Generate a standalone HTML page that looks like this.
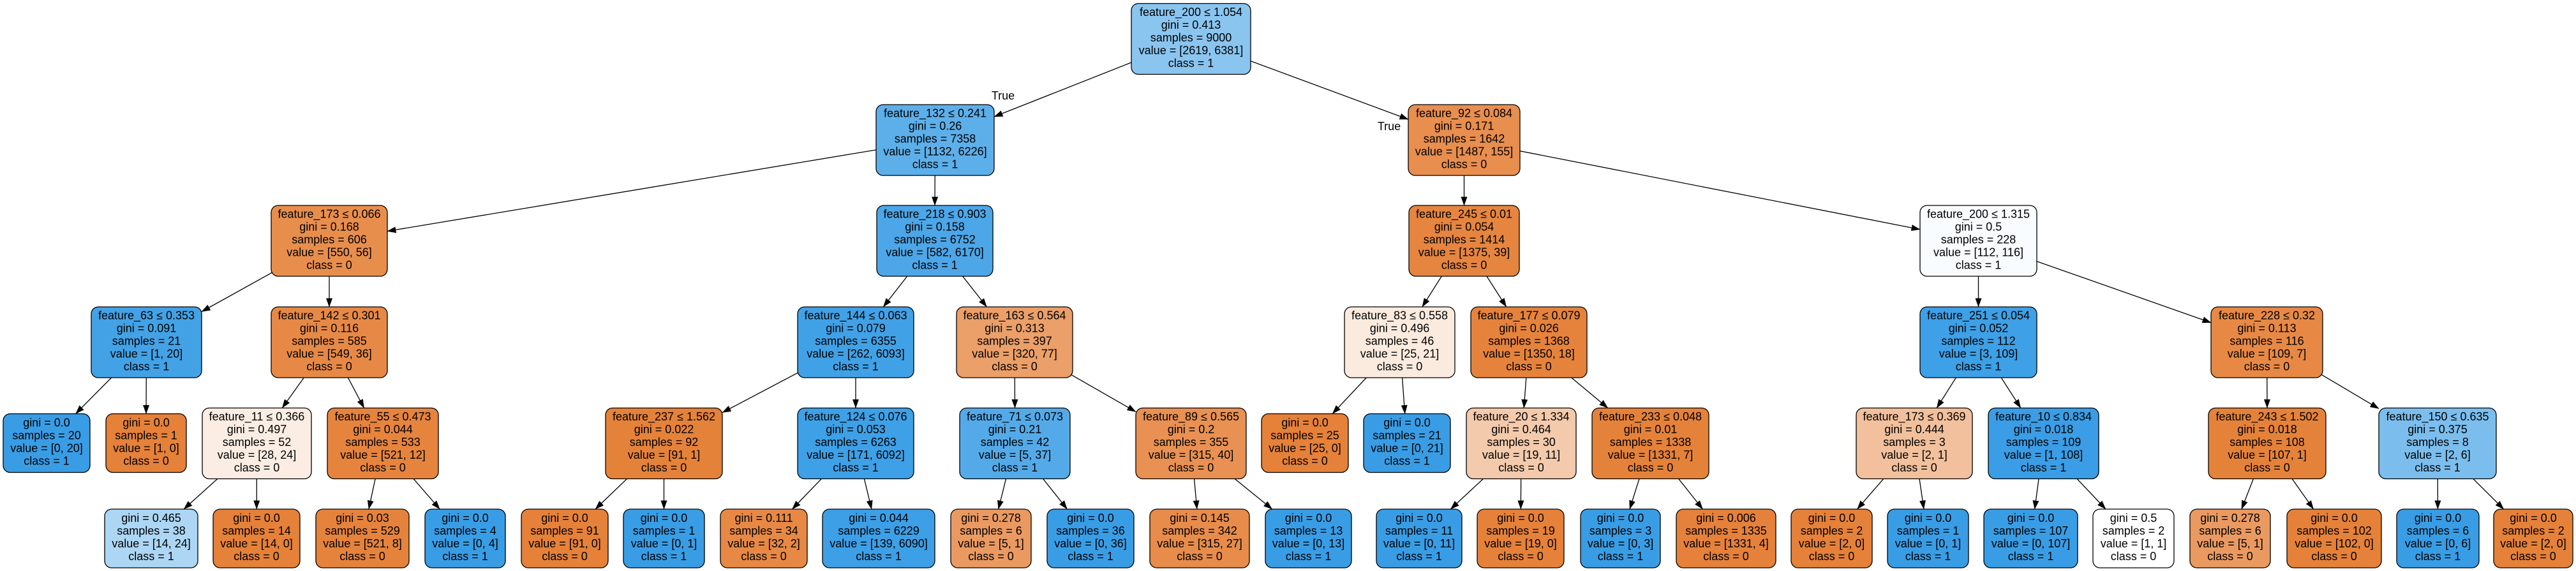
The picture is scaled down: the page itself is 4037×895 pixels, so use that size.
<!DOCTYPE html>
<html><head><meta charset="utf-8"><style>
html,body{margin:0;padding:0;background:#fff;}
svg{display:block;}
text{font-family:"Liberation Sans",Arial,sans-serif;font-size:18px;text-anchor:middle;fill:#000;}
rect{stroke:#000;stroke-width:1.3;}
line{stroke:#000;stroke-width:1.3;}
</style></head><body>
<svg width="4037" height="895" viewBox="0 0 4037 895" xmlns="http://www.w3.org/2000/svg">
<defs><marker id="a" markerUnits="userSpaceOnUse" markerWidth="14" markerHeight="10" refX="13.5" refY="5" orient="auto"><path d="M0,0 L14,5 L0,10 z" fill="#000"/></marker></defs>
<g marker-end="url(#a)">
<line x1="1866.5" y1="61" x2="1558" y2="182.9"/>
<line x1="1866.5" y1="61" x2="2207" y2="187.1"/>
<line x1="1465.5" y1="219.5" x2="607" y2="362.4"/>
<line x1="1465.5" y1="219.5" x2="1465" y2="322"/>
<line x1="2294.5" y1="219.5" x2="2294.5" y2="322"/>
<line x1="2294.5" y1="219.5" x2="3009" y2="359.6"/>
<line x1="516" y1="377.5" x2="316" y2="488.5"/>
<line x1="516" y1="377.5" x2="516" y2="481"/>
<line x1="1465" y1="377.5" x2="1384.3" y2="481"/>
<line x1="1465" y1="377.5" x2="1546.4" y2="481"/>
<line x1="2294.5" y1="377.5" x2="2228.8" y2="481"/>
<line x1="2294.5" y1="377.5" x2="2360.6" y2="481"/>
<line x1="3100.5" y1="377.5" x2="3100.5" y2="481"/>
<line x1="3100.5" y1="377.5" x2="3465" y2="505.7"/>
<line x1="229.5" y1="536.5" x2="118.6" y2="648.5"/>
<line x1="229.5" y1="536.5" x2="229" y2="648.5"/>
<line x1="516" y1="536.5" x2="442.2" y2="639.5"/>
<line x1="516" y1="536.5" x2="570.6" y2="639.5"/>
<line x1="1341" y1="536.5" x2="1132" y2="646.7"/>
<line x1="1341" y1="536.5" x2="1341" y2="639.5"/>
<line x1="1590" y1="536.5" x2="1590.5" y2="639.5"/>
<line x1="1590" y1="536.5" x2="1780" y2="645.4"/>
<line x1="2193.5" y1="536.5" x2="2088.2" y2="648.5"/>
<line x1="2193.5" y1="536.5" x2="2201.7" y2="648.5"/>
<line x1="2396" y1="536.5" x2="2388.2" y2="639.5"/>
<line x1="2396" y1="536.5" x2="2519.8" y2="639.5"/>
<line x1="3100.5" y1="536.5" x2="3035.2" y2="639.5"/>
<line x1="3100.5" y1="536.5" x2="3166.8" y2="639.5"/>
<line x1="3552.5" y1="536.5" x2="3553" y2="639.5"/>
<line x1="3552.5" y1="536.5" x2="3728" y2="640.5"/>
<line x1="402.5" y1="695" x2="288.1" y2="798"/>
<line x1="402.5" y1="695" x2="402.2" y2="798"/>
<line x1="600" y1="695" x2="577.9" y2="798"/>
<line x1="600" y1="695" x2="689.2" y2="798"/>
<line x1="1040.5" y1="695" x2="933" y2="798"/>
<line x1="1040.5" y1="695" x2="1040.5" y2="798"/>
<line x1="1341" y1="695" x2="1241.5" y2="798"/>
<line x1="1341" y1="695" x2="1365.9" y2="798"/>
<line x1="1590.5" y1="695" x2="1564.6" y2="798"/>
<line x1="1590.5" y1="695" x2="1672.4" y2="798"/>
<line x1="1866.5" y1="695" x2="1875.8" y2="798"/>
<line x1="1866.5" y1="695" x2="1993.7" y2="798"/>
<line x1="2384" y1="695" x2="2273.4" y2="798"/>
<line x1="2384" y1="695" x2="2383.3" y2="798"/>
<line x1="2586.5" y1="695" x2="2554" y2="798"/>
<line x1="2586.5" y1="695" x2="2668.4" y2="798"/>
<line x1="3000" y1="695" x2="2910.5" y2="798"/>
<line x1="3000" y1="695" x2="3014.9" y2="798"/>
<line x1="3202.5" y1="695" x2="3188.7" y2="798"/>
<line x1="3202.5" y1="695" x2="3300" y2="798"/>
<line x1="3553" y1="695" x2="3512.9" y2="798"/>
<line x1="3553" y1="695" x2="3625.6" y2="798"/>
<line x1="3820" y1="695" x2="3820.4" y2="798"/>
<line x1="3820" y1="695" x2="3923.7" y2="798"/>
</g>
<text x="1572" y="156">True</text>
<text x="2177" y="204">True</text>

<!-- L0 -->
<rect x="1773" y="5.5" width="187" height="111" rx="11" fill="#8ac5f0"/>
<text x="1866.5" y="25">feature_200 ≤ 1.054</text><text x="1866.5" y="45">gini = 0.413</text><text x="1866.5" y="65">samples = 9000</text><text x="1866.5" y="85">value = [2619, 6381]</text><text x="1866.5" y="105">class = 1</text>

<!-- L1 -->
<rect x="1373" y="164" width="185" height="111" rx="11" fill="#5dafea"/>
<text x="1465.5" y="183.5">feature_132 ≤ 0.241</text><text x="1465.5" y="203.5">gini = 0.26</text><text x="1465.5" y="223.5">samples = 7358</text><text x="1465.5" y="243.5">value = [1132, 6226]</text><text x="1465.5" y="263.5">class = 1</text>
<rect x="2207" y="164" width="175" height="111" rx="11" fill="#e88e4e"/>
<text x="2294.5" y="183.5">feature_92 ≤ 0.084</text><text x="2294.5" y="203.5">gini = 0.171</text><text x="2294.5" y="223.5">samples = 1642</text><text x="2294.5" y="243.5">value = [1487, 155]</text><text x="2294.5" y="263.5">class = 0</text>

<!-- L2 -->
<rect x="425" y="322" width="182" height="111" rx="11" fill="#e88e4d"/>
<text x="516" y="341.5">feature_173 ≤ 0.066</text><text x="516" y="361.5">gini = 0.168</text><text x="516" y="381.5">samples = 606</text><text x="516" y="401.5">value = [550, 56]</text><text x="516" y="421.5">class = 0</text>
<rect x="1374" y="322" width="182" height="111" rx="11" fill="#4ca6e7"/>
<text x="1465" y="341.5">feature_218 ≤ 0.903</text><text x="1465" y="361.5">gini = 0.158</text><text x="1465" y="381.5">samples = 6752</text><text x="1465" y="401.5">value = [582, 6170]</text><text x="1465" y="421.5">class = 1</text>
<rect x="2208" y="322" width="173" height="111" rx="11" fill="#e6853f"/>
<text x="2294.5" y="341.5">feature_245 ≤ 0.01</text><text x="2294.5" y="361.5">gini = 0.054</text><text x="2294.5" y="381.5">samples = 1414</text><text x="2294.5" y="401.5">value = [1375, 39]</text><text x="2294.5" y="421.5">class = 0</text>
<rect x="3009" y="322" width="183" height="111" rx="11" fill="#f8fcfe"/>
<text x="3100.5" y="341.5">feature_200 ≤ 1.315</text><text x="3100.5" y="361.5">gini = 0.5</text><text x="3100.5" y="381.5">samples = 228</text><text x="3100.5" y="401.5">value = [112, 116]</text><text x="3100.5" y="421.5">class = 1</text>

<!-- L3 -->
<rect x="143" y="481" width="173" height="111" rx="11" fill="#43a2e6"/>
<text x="229.5" y="500.5">feature_63 ≤ 0.353</text><text x="229.5" y="520.5">gini = 0.091</text><text x="229.5" y="540.5">samples = 21</text><text x="229.5" y="560.5">value = [1, 20]</text><text x="229.5" y="580.5">class = 1</text>
<rect x="425" y="481" width="182" height="111" rx="11" fill="#e78946"/>
<text x="516" y="500.5">feature_142 ≤ 0.301</text><text x="516" y="520.5">gini = 0.116</text><text x="516" y="540.5">samples = 585</text><text x="516" y="560.5">value = [549, 36]</text><text x="516" y="580.5">class = 0</text>
<rect x="1250" y="481" width="182" height="111" rx="11" fill="#41a1e6"/>
<text x="1341" y="500.5">feature_144 ≤ 0.063</text><text x="1341" y="520.5">gini = 0.079</text><text x="1341" y="540.5">samples = 6355</text><text x="1341" y="560.5">value = [262, 6093]</text><text x="1341" y="580.5">class = 1</text>
<rect x="1499" y="481" width="182" height="111" rx="11" fill="#eb9f69"/>
<text x="1590" y="500.5">feature_163 ≤ 0.564</text><text x="1590" y="520.5">gini = 0.313</text><text x="1590" y="540.5">samples = 397</text><text x="1590" y="560.5">value = [320, 77]</text><text x="1590" y="580.5">class = 0</text>
<rect x="2107" y="481" width="173" height="111" rx="11" fill="#fbebdf"/>
<text x="2193.5" y="500.5">feature_83 ≤ 0.558</text><text x="2193.5" y="520.5">gini = 0.496</text><text x="2193.5" y="540.5">samples = 46</text><text x="2193.5" y="560.5">value = [25, 21]</text><text x="2193.5" y="580.5">class = 0</text>
<rect x="2305" y="481" width="182" height="111" rx="11" fill="#e5833c"/>
<text x="2396" y="500.5">feature_177 ≤ 0.079</text><text x="2396" y="520.5">gini = 0.026</text><text x="2396" y="540.5">samples = 1368</text><text x="2396" y="560.5">value = [1350, 18]</text><text x="2396" y="580.5">class = 0</text>
<rect x="3009" y="481" width="183" height="111" rx="11" fill="#3ea0e6"/>
<text x="3100.5" y="500.5">feature_251 ≤ 0.054</text><text x="3100.5" y="520.5">gini = 0.052</text><text x="3100.5" y="540.5">samples = 112</text><text x="3100.5" y="560.5">value = [3, 109]</text><text x="3100.5" y="580.5">class = 1</text>
<rect x="3465" y="481" width="175" height="111" rx="11" fill="#e78945"/>
<text x="3552.5" y="500.5">feature_228 ≤ 0.32</text><text x="3552.5" y="520.5">gini = 0.113</text><text x="3552.5" y="540.5">samples = 116</text><text x="3552.5" y="560.5">value = [109, 7]</text><text x="3552.5" y="580.5">class = 0</text>

<!-- L4 -->
<rect x="5" y="648.5" width="136" height="92" rx="11" fill="#399de5"/>
<text x="73" y="668.5">gini = 0.0</text><text x="73" y="688.5">samples = 20</text><text x="73" y="708.5">value = [0, 20]</text><text x="73" y="728.5">class = 1</text>
<rect x="166" y="648.5" width="126" height="92" rx="11" fill="#e58139"/>
<text x="229" y="668.5">gini = 0.0</text><text x="229" y="688.5">samples = 1</text><text x="229" y="708.5">value = [1, 0]</text><text x="229" y="728.5">class = 0</text>
<rect x="317" y="639.5" width="171" height="111" rx="11" fill="#fbede3"/>
<text x="402.5" y="659">feature_11 ≤ 0.366</text><text x="402.5" y="679">gini = 0.497</text><text x="402.5" y="699">samples = 52</text><text x="402.5" y="719">value = [28, 24]</text><text x="402.5" y="739">class = 0</text>
<rect x="513" y="639.5" width="174" height="111" rx="11" fill="#e6843e"/>
<text x="600" y="659">feature_55 ≤ 0.473</text><text x="600" y="679">gini = 0.044</text><text x="600" y="699">samples = 533</text><text x="600" y="719">value = [521, 12]</text><text x="600" y="739">class = 0</text>
<rect x="949" y="639.5" width="183" height="111" rx="11" fill="#e5823a"/>
<text x="1040.5" y="659">feature_237 ≤ 1.562</text><text x="1040.5" y="679">gini = 0.022</text><text x="1040.5" y="699">samples = 92</text><text x="1040.5" y="719">value = [91, 1]</text><text x="1040.5" y="739">class = 0</text>
<rect x="1250" y="639.5" width="182" height="111" rx="11" fill="#3ea0e6"/>
<text x="1341" y="659">feature_124 ≤ 0.076</text><text x="1341" y="679">gini = 0.053</text><text x="1341" y="699">samples = 6263</text><text x="1341" y="719">value = [171, 6092]</text><text x="1341" y="739">class = 1</text>
<rect x="1504" y="639.5" width="173" height="111" rx="11" fill="#54aae8"/>
<text x="1590.5" y="659">feature_71 ≤ 0.073</text><text x="1590.5" y="679">gini = 0.21</text><text x="1590.5" y="699">samples = 42</text><text x="1590.5" y="719">value = [5, 37]</text><text x="1590.5" y="739">class = 1</text>
<rect x="1780" y="639.5" width="173" height="111" rx="11" fill="#e89152"/>
<text x="1866.5" y="659">feature_89 ≤ 0.565</text><text x="1866.5" y="679">gini = 0.2</text><text x="1866.5" y="699">samples = 355</text><text x="1866.5" y="719">value = [315, 40]</text><text x="1866.5" y="739">class = 0</text>
<rect x="1977" y="648.5" width="136" height="92" rx="11" fill="#e58139"/>
<text x="2045" y="668.5">gini = 0.0</text><text x="2045" y="688.5">samples = 25</text><text x="2045" y="708.5">value = [25, 0]</text><text x="2045" y="728.5">class = 0</text>
<rect x="2137" y="648.5" width="136" height="92" rx="11" fill="#399de5"/>
<text x="2205" y="668.5">gini = 0.0</text><text x="2205" y="688.5">samples = 21</text><text x="2205" y="708.5">value = [0, 21]</text><text x="2205" y="728.5">class = 1</text>
<rect x="2298" y="639.5" width="172" height="111" rx="11" fill="#f4caac"/>
<text x="2384" y="659">feature_20 ≤ 1.334</text><text x="2384" y="679">gini = 0.464</text><text x="2384" y="699">samples = 30</text><text x="2384" y="719">value = [19, 11]</text><text x="2384" y="739">class = 0</text>
<rect x="2495" y="639.5" width="183" height="111" rx="11" fill="#e5823a"/>
<text x="2586.5" y="659">feature_233 ≤ 0.048</text><text x="2586.5" y="679">gini = 0.01</text><text x="2586.5" y="699">samples = 1338</text><text x="2586.5" y="719">value = [1331, 7]</text><text x="2586.5" y="739">class = 0</text>
<rect x="2909" y="639.5" width="182" height="111" rx="11" fill="#f2c09c"/>
<text x="3000" y="659">feature_173 ≤ 0.369</text><text x="3000" y="679">gini = 0.444</text><text x="3000" y="699">samples = 3</text><text x="3000" y="719">value = [2, 1]</text><text x="3000" y="739">class = 0</text>
<rect x="3116" y="639.5" width="173" height="111" rx="11" fill="#3a9de5"/>
<text x="3202.5" y="659">feature_10 ≤ 0.834</text><text x="3202.5" y="679">gini = 0.018</text><text x="3202.5" y="699">samples = 109</text><text x="3202.5" y="719">value = [1, 108]</text><text x="3202.5" y="739">class = 1</text>
<rect x="3461" y="639.5" width="184" height="111" rx="11" fill="#e5823a"/>
<text x="3553" y="659">feature_243 ≤ 1.502</text><text x="3553" y="679">gini = 0.018</text><text x="3553" y="699">samples = 108</text><text x="3553" y="719">value = [107, 1]</text><text x="3553" y="739">class = 0</text>
<rect x="3728" y="639.5" width="184" height="111" rx="11" fill="#7bbeee"/>
<text x="3820" y="659">feature_150 ≤ 0.635</text><text x="3820" y="679">gini = 0.375</text><text x="3820" y="699">samples = 8</text><text x="3820" y="719">value = [2, 6]</text><text x="3820" y="739">class = 1</text>

<!-- L5 leaves -->
<rect x="164" y="798" width="146" height="92" rx="11" fill="#acd6f4"/>
<text x="237" y="818">gini = 0.465</text><text x="237" y="838">samples = 38</text><text x="237" y="858">value = [14, 24]</text><text x="237" y="878">class = 1</text>
<rect x="334" y="798" width="136" height="92" rx="11" fill="#e58139"/>
<text x="402" y="818">gini = 0.0</text><text x="402" y="838">samples = 14</text><text x="402" y="858">value = [14, 0]</text><text x="402" y="878">class = 0</text>
<rect x="495" y="798" width="146" height="92" rx="11" fill="#e5833c"/>
<text x="568" y="818">gini = 0.03</text><text x="568" y="838">samples = 529</text><text x="568" y="858">value = [521, 8]</text><text x="568" y="878">class = 0</text>
<rect x="666" y="798" width="126" height="92" rx="11" fill="#399de5"/>
<text x="729" y="818">gini = 0.0</text><text x="729" y="838">samples = 4</text><text x="729" y="858">value = [0, 4]</text><text x="729" y="878">class = 1</text>
<rect x="817" y="798" width="136" height="92" rx="11" fill="#e58139"/>
<text x="885" y="818">gini = 0.0</text><text x="885" y="838">samples = 91</text><text x="885" y="858">value = [91, 0]</text><text x="885" y="878">class = 0</text>
<rect x="977" y="798" width="127" height="92" rx="11" fill="#399de5"/>
<text x="1040.5" y="818">gini = 0.0</text><text x="1040.5" y="838">samples = 1</text><text x="1040.5" y="858">value = [0, 1]</text><text x="1040.5" y="878">class = 1</text>
<rect x="1129" y="798" width="136" height="92" rx="11" fill="#e78945"/>
<text x="1197" y="818">gini = 0.111</text><text x="1197" y="838">samples = 34</text><text x="1197" y="858">value = [32, 2]</text><text x="1197" y="878">class = 0</text>
<rect x="1289" y="798" width="176" height="92" rx="11" fill="#3d9fe6"/>
<text x="1377" y="818">gini = 0.044</text><text x="1377" y="838">samples = 6229</text><text x="1377" y="858">value = [139, 6090]</text><text x="1377" y="878">class = 1</text>
<rect x="1490" y="798" width="126" height="92" rx="11" fill="#ea9a61"/>
<text x="1553" y="818">gini = 0.278</text><text x="1553" y="838">samples = 6</text><text x="1553" y="858">value = [5, 1]</text><text x="1553" y="878">class = 0</text>
<rect x="1641" y="798" width="136" height="92" rx="11" fill="#399de5"/>
<text x="1709" y="818">gini = 0.0</text><text x="1709" y="838">samples = 36</text><text x="1709" y="858">value = [0, 36]</text><text x="1709" y="878">class = 1</text>
<rect x="1802" y="798" width="156" height="92" rx="11" fill="#e78c4a"/>
<text x="1880" y="818">gini = 0.145</text><text x="1880" y="838">samples = 342</text><text x="1880" y="858">value = [315, 27]</text><text x="1880" y="878">class = 0</text>
<rect x="1983" y="798" width="135" height="92" rx="11" fill="#399de5"/>
<text x="2050.5" y="818">gini = 0.0</text><text x="2050.5" y="838">samples = 13</text><text x="2050.5" y="858">value = [0, 13]</text><text x="2050.5" y="878">class = 1</text>
<rect x="2157" y="798" width="134" height="92" rx="11" fill="#399de5"/>
<text x="2224" y="818">gini = 0.0</text><text x="2224" y="838">samples = 11</text><text x="2224" y="858">value = [0, 11]</text><text x="2224" y="878">class = 1</text>
<rect x="2315" y="798" width="136" height="92" rx="11" fill="#e58139"/>
<text x="2383" y="818">gini = 0.0</text><text x="2383" y="838">samples = 19</text><text x="2383" y="858">value = [19, 0]</text><text x="2383" y="878">class = 0</text>
<rect x="2477" y="798" width="125" height="92" rx="11" fill="#399de5"/>
<text x="2539.5" y="818">gini = 0.0</text><text x="2539.5" y="838">samples = 3</text><text x="2539.5" y="858">value = [0, 3]</text><text x="2539.5" y="878">class = 1</text>
<rect x="2627" y="798" width="156" height="92" rx="11" fill="#e5813a"/>
<text x="2705" y="818">gini = 0.006</text><text x="2705" y="838">samples = 1335</text><text x="2705" y="858">value = [1331, 4]</text><text x="2705" y="878">class = 0</text>
<rect x="2807" y="798" width="127" height="92" rx="11" fill="#e58139"/>
<text x="2870.5" y="818">gini = 0.0</text><text x="2870.5" y="838">samples = 2</text><text x="2870.5" y="858">value = [2, 0]</text><text x="2870.5" y="878">class = 0</text>
<rect x="2958" y="798" width="127" height="92" rx="11" fill="#399de5"/>
<text x="3021.5" y="818">gini = 0.0</text><text x="3021.5" y="838">samples = 1</text><text x="3021.5" y="858">value = [0, 1]</text><text x="3021.5" y="878">class = 1</text>
<rect x="3109" y="798" width="147" height="92" rx="11" fill="#399de5"/>
<text x="3182.5" y="818">gini = 0.0</text><text x="3182.5" y="838">samples = 107</text><text x="3182.5" y="858">value = [0, 107]</text><text x="3182.5" y="878">class = 1</text>
<rect x="3280" y="798" width="127" height="92" rx="11" fill="#ffffff"/>
<text x="3343.5" y="818">gini = 0.5</text><text x="3343.5" y="838">samples = 2</text><text x="3343.5" y="858">value = [1, 1]</text><text x="3343.5" y="878">class = 0</text>
<rect x="3432" y="798" width="126" height="92" rx="11" fill="#ea9a61"/>
<text x="3495" y="818">gini = 0.278</text><text x="3495" y="838">samples = 6</text><text x="3495" y="858">value = [5, 1]</text><text x="3495" y="878">class = 0</text>
<rect x="3584" y="798" width="148" height="92" rx="11" fill="#e58139"/>
<text x="3658" y="818">gini = 0.0</text><text x="3658" y="838">samples = 102</text><text x="3658" y="858">value = [102, 0]</text><text x="3658" y="878">class = 0</text>
<rect x="3756" y="798" width="129" height="92" rx="11" fill="#399de5"/>
<text x="3820.5" y="818">gini = 0.0</text><text x="3820.5" y="838">samples = 6</text><text x="3820.5" y="858">value = [0, 6]</text><text x="3820.5" y="878">class = 1</text>
<rect x="3908" y="798" width="124" height="92" rx="11" fill="#e58139"/>
<text x="3970" y="818">gini = 0.0</text><text x="3970" y="838">samples = 2</text><text x="3970" y="858">value = [2, 0]</text><text x="3970" y="878">class = 0</text>
</svg>
</body></html>
